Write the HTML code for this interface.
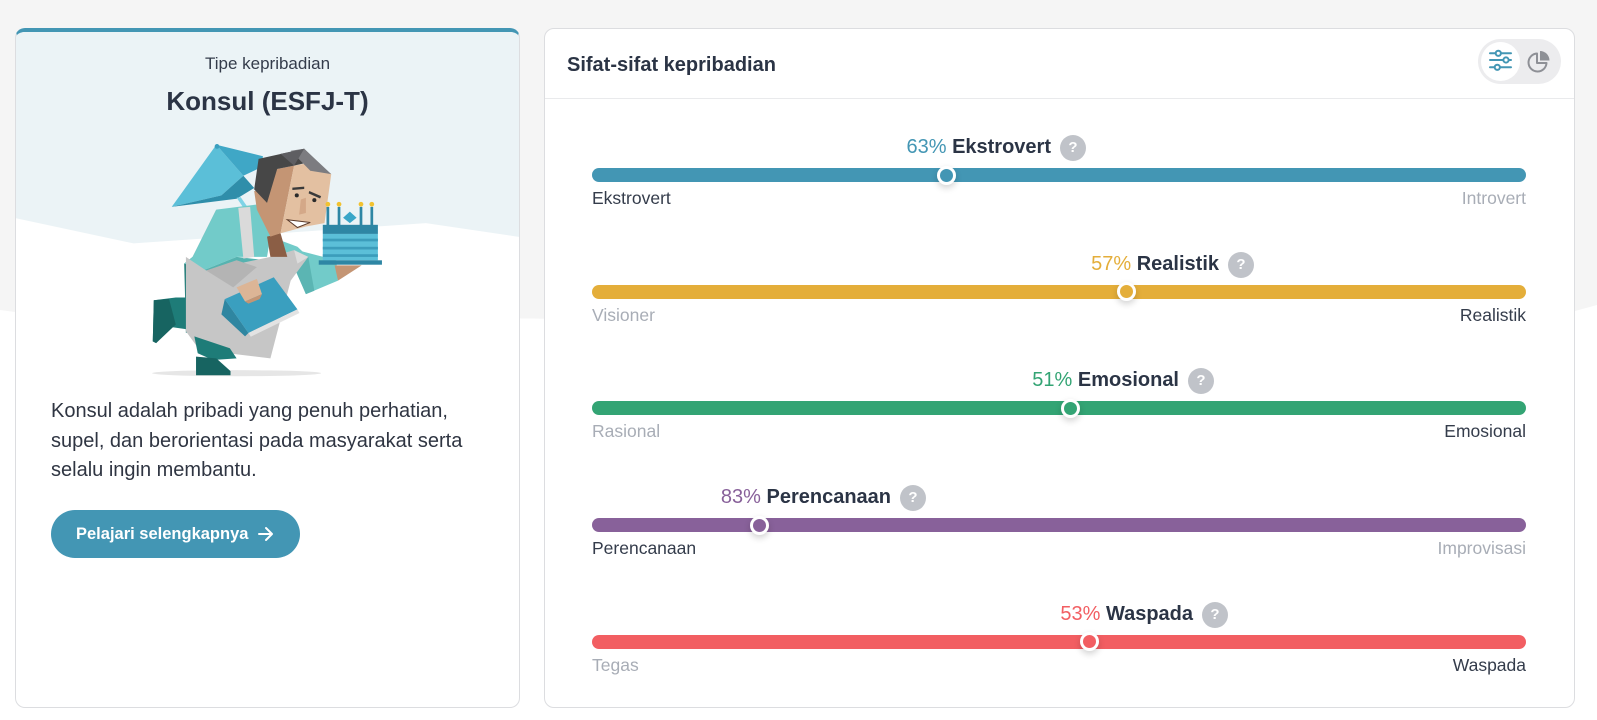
<!DOCTYPE html>
<html>
<head>
<meta charset="utf-8">
<style>
  html,body{margin:0;padding:0;}
  body{width:1597px;height:720px;overflow:hidden;position:relative;background:#ffffff;font-family:"Liberation Sans",Arial,sans-serif;color:#2b3445;}
  .abs{position:absolute;}
  .card{position:absolute;box-sizing:border-box;background:#fff;border:1px solid #dcdde0;border-radius:10px;overflow:hidden;}
  .bar{position:absolute;left:592px;width:934px;height:14px;border-radius:7px;}
  .thumb{position:absolute;width:19px;height:19px;box-sizing:border-box;border:3px solid #fff;border-radius:50%;box-shadow:0 3px 7px rgba(0,0,0,0.18);}
  .ttl{position:absolute;width:600px;text-align:right;font-size:20px;line-height:24px;height:24px;white-space:nowrap;color:#2b3445;}
  .ttl b{font-weight:700;}
  .q{position:absolute;width:26px;height:26px;border-radius:50%;background:#c0c3c9;color:#fff;font-weight:700;font-size:15px;line-height:26px;text-align:center;}
  .lbl{position:absolute;font-size:17.5px;line-height:22px;height:22px;white-space:nowrap;}
  .lbl.l{left:592px;}
  .lbl.r{left:926px;width:600px;text-align:right;}
  .dark{color:#343c4b;}
  .gray{color:#a8adb6;}
</style>
</head>
<body>
<!-- page background -->
<svg class="abs" style="left:0;top:0" width="1597" height="720" viewBox="0 0 1597 720">
  <polygon points="0,0 1597,0 1597,305 1575,311 800,322 15,312 0,310" fill="#f5f5f5"/>
</svg>

<!-- LEFT CARD -->
<div class="card" style="left:15px;top:28px;width:505px;height:680px;border-top:4px solid #4396b4;">
  <svg class="abs" style="left:-16px;top:-32px" width="530" height="380" viewBox="0 0 1568 1124">
    <polygon points="0,0 1568,0 1568,705 1530,700 1260,660 395,720 45,645 0,640" fill="#ebf3f6"/>
    <!-- shadow -->
    <ellipse cx="700" cy="1104" rx="250" ry="9" fill="#e6e6e6"/>
    <!-- umbrella -->
    <polygon points="640,428 508,612 655,578 720,520" fill="#5bbfd8"/>
    <polygon points="640,428 720,520 772,495 778,462" fill="#3fa7c6"/>
    <polygon points="508,612 655,578 720,520 752,556 700,588" fill="#2f8eaa"/>
    <polygon points="700,585 712,583 732,612 720,614" fill="#7fd3e6"/>
    <circle cx="642" cy="433" r="7" fill="#3a9fbf"/>
    <!-- back leg -->
    <polygon points="455,888 520,880 560,880 560,975 490,965 462,1015 452,1010" fill="#1e7c78"/>
    <polygon points="455,888 500,884 520,960 462,1015 452,1010" fill="#176461"/>
    <!-- torso left dark -->
    <polygon points="640,620 570,760 545,780 548,900 550,985 590,960 600,800" fill="#1e7b77"/>
    <!-- shirt -->
    <polygon points="640,620 760,605 800,700 790,760 700,760 600,800 545,780 570,760" fill="#72cbc9"/>
    <polygon points="600,800 700,760 790,770 700,850" fill="#56b3b0"/>
    <polygon points="705,615 740,612 752,760 720,765" fill="#dadada"/>
    <polygon points="800,700 880,730 912,760 870,790 810,760" fill="#72cbc9"/>
    <!-- right arm -->
    <polygon points="880,740 995,770 1000,830 905,870 870,790" fill="#72cbc9"/>
    <polygon points="870,790 912,760 930,860 905,870" fill="#5bb5b3"/>
    <polygon points="990,785 1070,785 1000,830" fill="#c49574"/>
    <!-- apron -->
    <polygon points="550,760 610,800 800,760 870,740 912,760 860,830 800,1060 590,1035 550,980" fill="#c6c6c6"/>
    <polygon points="870,740 912,760 880,780" fill="#dcdcdc"/>
    <polygon points="610,800 700,770 760,790 690,850" fill="#b4b4b4"/>
    <!-- front leg / foot -->
    <polygon points="575,995 680,1030 700,1060 630,1065 585,1045" fill="#1e7c78"/>
    <polygon points="580,1055 640,1060 682,1098 682,1110 580,1110" fill="#176461"/>
    <!-- book -->
    <polygon points="655,930 665,885 735,985 725,995" fill="#2f86a1"/>
    <polygon points="665,885 810,820 880,915 735,985" fill="#3a9fbf"/>
    <polygon points="735,985 880,915 886,926 742,996" fill="#e3e3e3"/>
    <!-- hand -->
    <polygon points="700,850 760,825 775,870 725,892" fill="#dcb596"/>
    <polygon points="725,892 775,870 768,885 735,898" fill="#c49574"/>
    <!-- neck -->
    <polygon points="790,700 830,690 850,760 800,760" fill="#8b5e45"/>
    <!-- head -->
    <polygon points="752,565 790,560 820,500 870,490 830,690 800,700 760,620" fill="#c49574"/>
    <polygon points="870,490 935,478 980,515 960,660 905,670 830,690" fill="#e3c0a1"/>
    <polygon points="890,590 905,585 905,630 885,635" fill="#d4a888"/>
    <polygon points="765,470 900,440 935,475 870,490 820,500 790,600 752,560" fill="#474747"/>
    <polygon points="860,446 900,440 980,515 918,505" fill="#7c7c80"/>
    <polygon points="830,455 900,440 870,490" fill="#5e5e62"/>
    <circle cx="878" cy="578" r="6" fill="#2a2a2a"/>
    <circle cx="930" cy="592" r="6" fill="#2a2a2a"/>
    <polygon points="865,555 900,552 900,559 865,562" fill="#3a3a3a"/>
    <polygon points="915,565 950,580 947,587 913,572" fill="#3a3a3a"/>
    <polygon points="850,650 918,658 880,673" fill="#ffffff" stroke="#5a3a2a" stroke-width="3"/>
    <!-- cake -->
    <rect x="966" y="612" width="8" height="54" fill="#2e86a4"/>
    <rect x="999" y="612" width="8" height="54" fill="#2e86a4"/>
    <rect x="1064" y="612" width="8" height="54" fill="#2e86a4"/>
    <rect x="1096" y="612" width="8" height="54" fill="#2e86a4"/>
    <circle cx="970" cy="604" r="7" fill="#f2c230"/>
    <circle cx="1003" cy="604" r="7" fill="#f2c230"/>
    <circle cx="1068" cy="604" r="7" fill="#f2c230"/>
    <circle cx="1100" cy="604" r="7" fill="#f2c230"/>
    <polygon points="1035,626 1055,644 1035,660 1015,644" fill="#3aa6c8"/>
    <rect x="955" y="665" width="163" height="27" fill="#2e86a4"/>
    <rect x="955" y="692" width="163" height="78" fill="#5bbfd8"/>
    <rect x="955" y="706" width="163" height="8" fill="#3c9dbb"/>
    <rect x="955" y="730" width="163" height="8" fill="#3c9dbb"/>
    <rect x="955" y="752" width="163" height="8" fill="#3c9dbb"/>
    <rect x="943" y="770" width="187" height="13" fill="#2e86a4"/>
  </svg>
</div>

<div class="abs" style="left:15px;width:505px;top:52px;height:24px;line-height:24px;text-align:center;font-size:17px;color:#343c4b;">Tipe kepribadian</div>
<div class="abs" style="left:15px;width:505px;top:85px;height:32px;line-height:32px;text-align:center;font-size:26px;font-weight:700;color:#2b3445;">Konsul (ESFJ-T)</div>

<div class="abs" style="left:51px;top:397px;font-size:20px;line-height:29.6px;color:#2f3542;white-space:nowrap;">Konsul adalah pribadi yang penuh perhatian,<br>supel, dan berorientasi pada masyarakat serta<br>selalu ingin membantu.</div>

<div class="abs" style="left:51px;top:510px;width:249px;height:48px;border-radius:24px;background:#4396b4;"></div>
<div class="abs" style="left:76px;top:522px;height:24px;line-height:24px;font-size:16.5px;font-weight:700;color:#fff;white-space:nowrap;">Pelajari selengkapnya</div>
<svg class="abs" style="left:257px;top:526px" width="18" height="16" viewBox="0 0 18 16">
  <path d="M2 8 H15 M9 2 L15 8 L9 14" stroke="#fff" stroke-width="2" fill="none" stroke-linecap="round" stroke-linejoin="round"/>
</svg>

<!-- RIGHT CARD -->
<div class="card" style="left:544px;top:28px;width:1031px;height:680px;"></div>
<div class="abs" style="left:545px;top:98px;width:1029px;height:1px;background:#e9eaec;"></div>
<div class="abs" style="left:567px;top:53px;height:24px;line-height:24px;font-size:20px;font-weight:700;color:#2b3445;white-space:nowrap;">Sifat-sifat kepribadian</div>

<!-- toggle -->
<div class="abs" style="left:1478px;top:39px;width:83px;height:45px;border-radius:23px;background:#ececee;"></div>
<div class="abs" style="left:1481px;top:42px;width:39px;height:39px;border-radius:50%;background:#fff;"></div>
<svg class="abs" style="left:1481px;top:42px" width="39" height="39" viewBox="0 0 39 39">
  <g stroke="#4396b4" stroke-width="2" fill="none" stroke-linecap="round">
    <line x1="9" y1="11.3" x2="30" y2="11.3"/>
    <line x1="9" y1="18" x2="30" y2="18"/>
    <line x1="9" y1="25.3" x2="30" y2="25.3"/>
    <circle cx="17.3" cy="11.3" r="2.6" fill="#fff"/>
    <circle cx="25" cy="18" r="2.6" fill="#fff"/>
    <circle cx="16.3" cy="25.3" r="2.6" fill="#fff"/>
  </g>
</svg>
<svg class="abs" style="left:1526px;top:49px" width="26" height="26" viewBox="0 0 26 26">
  <path d="M11 4.5 A9 9 0 1 0 20.5 14 L11 14 Z" stroke="#8e9096" stroke-width="2" fill="none" stroke-linejoin="round"/>
  <path d="M14 2 A9.5 9.5 0 0 1 23.5 11.5 L14 11.5 Z" fill="#8e9096"/>
</svg>

<!-- ROW 1 -->
<div class="ttl" style="left:451px;top:135px;"><span style="color:#4396b4">63%</span> <b>Ekstrovert</b></div>
<div class="q" style="left:1060px;top:135px;">?</div>
<div class="bar" style="top:168px;background:#4396b4;"></div>
<div class="thumb" style="left:937px;top:165.5px;background:#4396b4;"></div>
<div class="lbl l dark" style="top:187px;">Ekstrovert</div>
<div class="lbl r gray" style="top:187px;">Introvert</div>

<!-- ROW 2 -->
<div class="ttl" style="left:619px;top:252px;"><span style="color:#e4ae3a">57%</span> <b>Realistik</b></div>
<div class="q" style="left:1228px;top:252px;">?</div>
<div class="bar" style="top:285px;background:#e4ae3a;"></div>
<div class="thumb" style="left:1116.5px;top:282px;background:#e4ae3a;"></div>
<div class="lbl l gray" style="top:304px;">Visioner</div>
<div class="lbl r dark" style="top:304px;">Realistik</div>

<!-- ROW 3 -->
<div class="ttl" style="left:579px;top:368px;"><span style="color:#33a474">51%</span> <b>Emosional</b></div>
<div class="q" style="left:1188px;top:368px;">?</div>
<div class="bar" style="top:401px;background:#33a474;"></div>
<div class="thumb" style="left:1060.5px;top:399px;background:#33a474;"></div>
<div class="lbl l gray" style="top:420px;">Rasional</div>
<div class="lbl r dark" style="top:420px;">Emosional</div>

<!-- ROW 4 -->
<div class="ttl" style="left:291px;top:485px;"><span style="color:#88619a">83%</span> <b>Perencanaan</b></div>
<div class="q" style="left:900px;top:485px;">?</div>
<div class="bar" style="top:518px;background:#88619a;"></div>
<div class="thumb" style="left:749.5px;top:515.5px;background:#88619a;"></div>
<div class="lbl l dark" style="top:537px;">Perencanaan</div>
<div class="lbl r gray" style="top:537px;">Improvisasi</div>

<!-- ROW 5 -->
<div class="ttl" style="left:593px;top:602px;"><span style="color:#f25e62">53%</span> <b>Waspada</b></div>
<div class="q" style="left:1202px;top:602px;">?</div>
<div class="bar" style="top:635px;background:#f25e62;"></div>
<div class="thumb" style="left:1079.5px;top:632px;background:#f25e62;"></div>
<div class="lbl l gray" style="top:654px;">Tegas</div>
<div class="lbl r dark" style="top:654px;">Waspada</div>

</body>
</html>
